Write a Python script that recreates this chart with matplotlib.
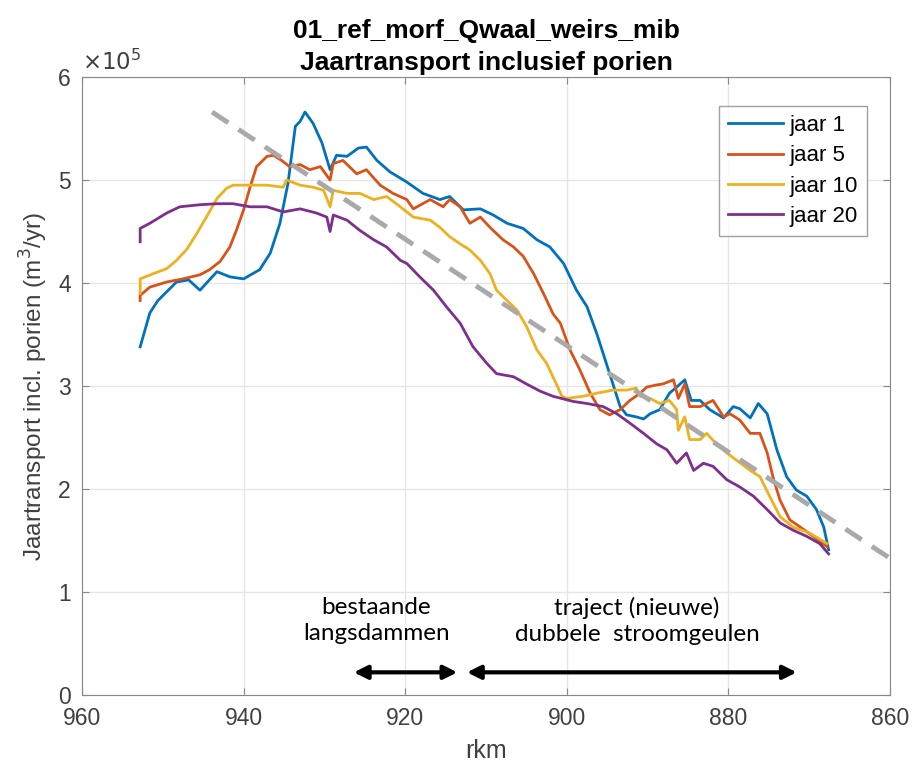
import matplotlib.pyplot as plt

plt.rcParams['font.family'] = ['Liberation Sans', 'DejaVu Sans']

# rkm / transport (x1e5 m3/yr)
km_j1 = [952.8, 951.6, 950.6, 948.3, 946.8, 945.4, 943.3, 941.7, 940.0, 938.0, 936.7, 935.5,
         934.5, 933.6, 933.0, 932.4, 931.4, 930.3, 929.3, 928.5, 927.2, 925.8, 924.8, 923.5,
         921.9, 919.8, 917.8, 915.7, 914.5, 912.8, 910.7, 909.1, 907.4, 905.4, 903.7, 902.1,
         900.4, 898.8, 897.5, 896.3, 894.7, 893.4, 892.6, 891.4, 890.5, 889.7, 888.5, 887.3,
         886.4, 885.4, 884.6, 883.5, 882.3, 880.6, 879.4, 878.6, 877.3, 876.3, 875.2, 874.0,
         872.8, 871.6, 870.3, 869.1, 868.2, 867.6]
q_j1 = [3.38, 3.71, 3.83, 4.01, 4.03, 3.93, 4.11, 4.06, 4.04, 4.13, 4.29, 4.58,
        4.97, 5.52, 5.57, 5.66, 5.55, 5.36, 5.10, 5.24, 5.23, 5.31, 5.32, 5.19,
        5.08, 4.98, 4.87, 4.81, 4.84, 4.71, 4.72, 4.66, 4.58, 4.53, 4.42, 4.35,
        4.19, 3.93, 3.77, 3.51, 3.12, 2.80, 2.72, 2.70, 2.68, 2.73, 2.77, 2.93,
        2.99, 3.06, 2.86, 2.86, 2.77, 2.69, 2.80, 2.78, 2.69, 2.83, 2.73, 2.38,
        2.12, 1.99, 1.93, 1.80, 1.63, 1.41]

km_j5 = [952.8, 952.8, 951.6, 949.5, 947.5, 945.4, 944.2, 942.9, 941.7, 940.9, 940.0, 939.2,
         938.4, 937.1, 936.3, 935.3, 934.3, 933.0, 931.8, 930.5, 929.3, 928.9, 927.7, 926.0,
         924.8, 923.1, 921.5, 919.8, 919.0, 916.9, 915.3, 914.5, 913.2, 912.0, 910.7, 909.5,
         908.7, 907.9, 906.6, 905.4, 904.1, 902.9, 901.7, 900.8, 899.6, 898.4, 897.1, 895.9,
         894.7, 893.4, 892.2, 890.9, 890.1, 888.9, 888.1, 886.8, 886.2, 885.4, 884.8, 883.5,
         881.9, 880.6, 879.8, 878.6, 877.3, 876.1, 875.2, 874.4, 873.6, 872.4, 871.1, 869.5,
         867.8]
q_j5 = [3.83, 3.88, 3.96, 4.01, 4.04, 4.08, 4.13, 4.21, 4.35, 4.51, 4.71, 4.93,
        5.13, 5.23, 5.24, 5.19, 5.13, 5.15, 5.10, 5.13, 5.00, 5.16, 5.19, 5.06,
        5.10, 4.95, 4.87, 4.81, 4.72, 4.81, 4.74, 4.81, 4.74, 4.58, 4.64, 4.54,
        4.48, 4.42, 4.35, 4.26, 4.09, 3.90, 3.70, 3.61, 3.35, 3.16, 2.93, 2.77,
        2.72, 2.77, 2.86, 2.93, 2.99, 3.01, 3.02, 3.06, 2.88, 3.02, 2.80, 2.80,
        2.86, 2.70, 2.73, 2.67, 2.54, 2.54, 2.35, 2.09, 1.89, 1.70, 1.63, 1.54,
        1.44]

km_j10 = [952.8, 952.8, 951.2, 949.5, 948.3, 947.0, 945.8, 944.6, 943.3, 942.1, 941.3, 939.2,
          937.1, 935.1, 934.7, 933.0, 931.4, 930.1, 929.3, 928.9, 927.2, 925.6, 923.9, 922.3,
          920.6, 919.0, 916.9, 915.7, 914.5, 913.2, 912.0, 910.7, 909.5, 908.7, 907.4, 906.2,
          905.0, 903.7, 902.5, 901.3, 900.6, 900.0, 898.0, 896.3, 894.3, 892.6, 891.4, 890.9,
          889.7, 888.5, 887.3, 886.4, 886.2, 885.4, 884.8, 883.5, 882.7, 881.5, 880.2, 879.0,
          877.3, 876.1, 874.9, 873.6, 872.0, 869.9, 867.8]
q_j10 = [3.90, 4.04, 4.09, 4.14, 4.22, 4.33, 4.48, 4.64, 4.82, 4.92, 4.95, 4.95,
         4.95, 4.93, 5.00, 4.95, 4.93, 4.90, 4.74, 4.90, 4.87, 4.87, 4.81, 4.84,
         4.74, 4.64, 4.61, 4.54, 4.45, 4.38, 4.32, 4.22, 4.09, 3.93, 3.83, 3.74,
         3.58, 3.35, 3.22, 3.02, 2.90, 2.88, 2.90, 2.93, 2.96, 2.96, 2.98, 2.90,
         2.88, 2.83, 2.86, 2.77, 2.57, 2.70, 2.48, 2.48, 2.54, 2.44, 2.35, 2.28,
         2.18, 2.12, 1.93, 1.73, 1.63, 1.57, 1.47]

km_j20 = [952.8, 952.8, 951.6, 949.5, 947.9, 945.4, 943.3, 941.3, 939.2, 937.1, 935.1, 933.0,
          931.0, 929.7, 929.3, 928.9, 927.2, 925.6, 923.9, 922.3, 920.6, 919.8, 918.2, 916.5,
          914.9, 913.2, 911.6, 909.9, 908.7, 906.6, 905.0, 903.3, 901.7, 899.2, 897.5, 895.5,
          893.8, 892.2, 890.5, 888.9, 887.6, 886.4, 885.2, 884.3, 883.1, 881.9, 880.2, 878.6,
          876.9, 875.2, 873.6, 872.0, 870.3, 868.7, 867.6]
q_j20 = [4.40, 4.53, 4.58, 4.68, 4.74, 4.76, 4.77, 4.77, 4.74, 4.74, 4.69, 4.72,
         4.68, 4.64, 4.50, 4.66, 4.61, 4.51, 4.42, 4.35, 4.22, 4.19, 4.06, 3.93,
         3.77, 3.61, 3.38, 3.22, 3.12, 3.09, 3.02, 2.95, 2.90, 2.85, 2.83, 2.80,
         2.73, 2.64, 2.54, 2.44, 2.38, 2.25, 2.35, 2.18, 2.25, 2.22, 2.09, 2.02,
         1.93, 1.80, 1.67, 1.60, 1.54, 1.47, 1.37]

trend_km = [943.9, 859.1]
trend_q = [5.66, 1.28]

series = [(km_j1, q_j1, 'jaar 1', '#0072BD'),
          (km_j5, q_j5, 'jaar 5', '#D95319'),
          (km_j10, q_j10, 'jaar 10', '#EDB120'),
          (km_j20, q_j20, 'jaar 20', '#7E2F8E')]

fig = plt.figure(figsize=(9.15, 7.71), dpi=100)
ax = fig.add_axes([0.0896, 0.0986, 0.8831, 0.8015])

for km, q, lbl, col in series:
    ax.plot(km, [v * 1e5 for v in q], color=col, lw=2.0, label=lbl)

ax.plot(trend_km, [v * 1e5 for v in trend_q], color='#a9a9a9', lw=3.5,
        ls=(0, (4, 2.5)), clip_on=False, zorder=3)

ax.set_xlim(960, 860)
ax.set_ylim(0, 6e5)
ax.set_xticks([960, 940, 920, 900, 880, 860])
ax.set_yticks([0, 1e5, 2e5, 3e5, 4e5, 5e5, 6e5])
ax.set_yticklabels(['0', '1', '2', '3', '4', '5', '6'])
ax.grid(True, color='#e6e6e6', lw=1)
ax.set_axisbelow(True)
ax.tick_params(direction='in', top=True, right=True, labelsize=16.5,
               colors='#888888', labelcolor='#404040', length=5)
ax.tick_params(axis='x', pad=9)
ax.tick_params(axis='y', pad=8)
for s in ax.spines.values():
    s.set_color('#888888')

ax.text(0.0, 1.004, r'$\times10^5$', transform=ax.transAxes, fontsize=16.5,
        color='#404040', ha='left', va='bottom')

ax.set_xlabel('rkm', fontsize=18, color='#404040', labelpad=6)
ax.set_ylabel('Jaartransport incl. porien (m$^3$/yr)', fontsize=17.5, color='#404040',
              labelpad=6)
ax.set_title('01_ref_morf_Qwaal_weirs_mib\nJaartransport inclusief porien',
             fontsize=19, fontweight='bold', linespacing=1.4, pad=5)

leg = ax.legend(loc='upper right', bbox_to_anchor=(0.9715, 0.953), fontsize=16,
                frameon=True, fancybox=False, edgecolor='#888888',
                handlelength=2.5, handletextpad=0.3, borderpad=0.4, labelspacing=0.42,
                borderaxespad=0)
leg.get_frame().set_linewidth(1)

# trajectory annotations
ax.annotate('', xy=(926.7, 0.22e5), xytext=(913.2, 0.22e5),
            arrowprops=dict(arrowstyle='<|-|>', color='black', lw=3, mutation_scale=20))
ax.annotate('', xy=(912.7, 0.22e5), xytext=(871.2, 0.22e5),
            arrowprops=dict(arrowstyle='<|-|>', color='black', lw=3, mutation_scale=20))
ax.text(923.6, 0.72e5, 'bestaande\nlangsdammen', ha='center', va='center',
        fontsize=17.5, family=['Lato', 'DejaVu Sans'], linespacing=1.3)
ax.text(891.3, 0.72e5, 'traject (nieuwe)\ndubbele  stroomgeulen', ha='center', va='center',
        fontsize=17.5, family=['Lato', 'DejaVu Sans'], linespacing=1.3)

fig.savefig('out.png', dpi=100)
